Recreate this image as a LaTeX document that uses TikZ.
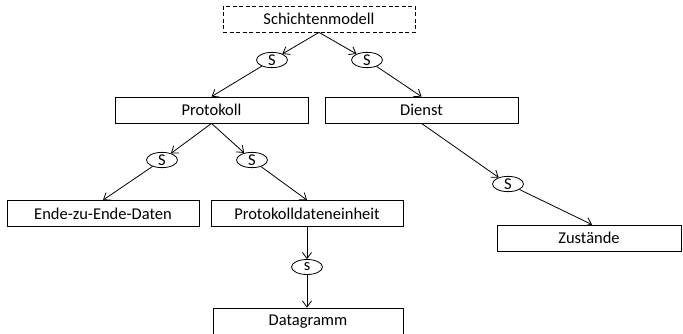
\documentclass[tikz,border=0pt]{standalone}
\usepackage{fontspec}
\setmainfont{Carlito}
\usetikzlibrary{arrows.meta,shapes.geometric}
\begin{document}
\begin{tikzpicture}[x=1pt,y=-1pt,
  every node/.style={font=\fontsize{16.5}{20}\selectfont, inner sep=0pt},
  conceptbox/.style={draw, line width=0.8pt, rectangle, minimum height=26pt, anchor=center},
  rootbox/.style={conceptbox, dashed, dash pattern=on 4pt off 2.5pt},
  relation/.style={draw, line width=0.8pt, ellipse, minimum width=31pt, minimum height=15pt, font=\fontsize{16.5}{18}\selectfont},
  link/.style={line width=0.8pt, -{Straight Barb[length=6pt,width=9pt,line width=0.8pt]}}]
\useasboundingbox (0,0) rectangle (683,333);

% concept boxes
\node[rootbox, minimum width=192pt] (root) at (319,19) {Schichtenmodell};
\node[conceptbox, minimum width=193pt] (prot) at (211.5,110) {Protokoll};
\node[conceptbox, minimum width=193pt] (dienst) at (421.5,110) {Dienst};
\node[conceptbox, minimum width=192pt] (e2e) at (103,213.5) {Ende-zu-Ende-Daten};
\node[conceptbox, minimum width=192pt] (pdu) at (307,213.5) {Protokolldateneinheit};
\node[conceptbox, minimum width=184pt] (zust) at (589,238) {Zustände};
\node[conceptbox, minimum width=190pt, minimum height=28pt] (dgram) at (308,322) {Datagramm};

% relation markers
\node[relation] (r1) at (272,60) {S};
\node[relation] (r2) at (367,60) {S};
\node[relation] (r3) at (162,160) {S};
\node[relation] (r4) at (252,160) {S};
\node[relation] (r5) at (508,184) {S};
\node[relation] (r6) at (307,267) {s};

% connectors
\draw[link] (root.south) -- (r1);
\draw[link] (root.south) -- (r2);
\draw[link] (r1) -- (prot.north);
\draw[link] (r2) -- (dienst.north);
\draw[link] (prot.south) -- (r3);
\draw[link] (prot.south) -- (r4);
\draw[link] (r3) -- (e2e.north);
\draw[link] (r4) -- (pdu.north);
\draw[link] (dienst.south) -- (r5);
\draw[link] (r5) -- ([xshift=3pt]zust.north);
\draw[link] (pdu.south) -- (r6);
\draw[link] (r6) -- (r6 |- dgram.north);
\end{tikzpicture}
\end{document}
